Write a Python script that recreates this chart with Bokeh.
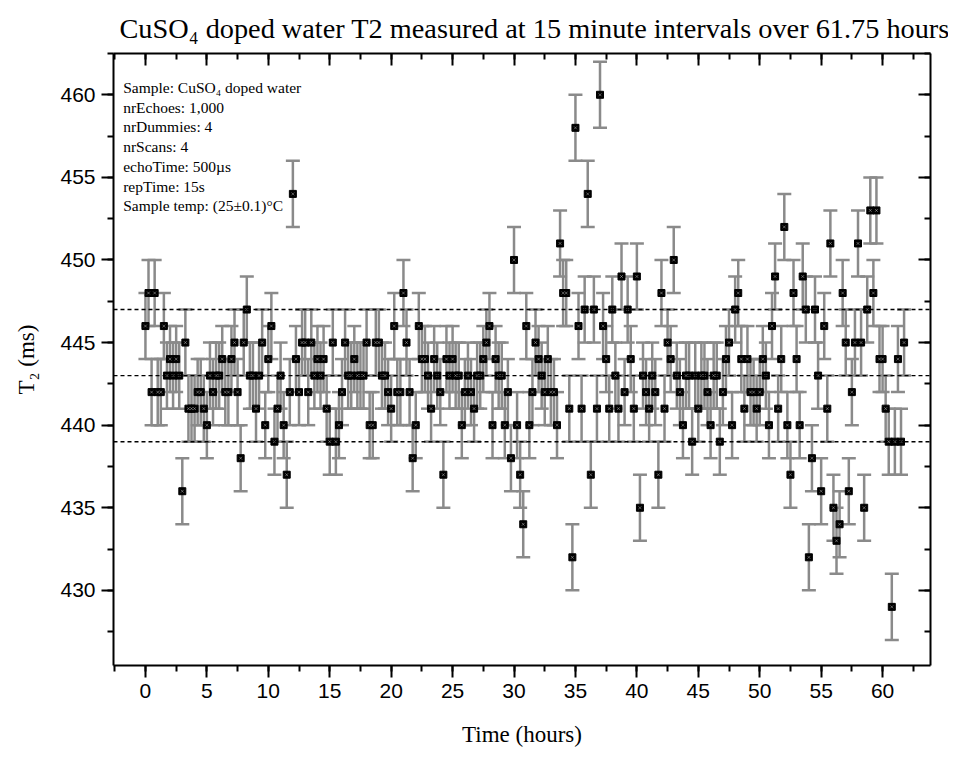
from bokeh.plotting import figure
from bokeh.models import (ColumnDataSource, Whisker, TeeHead, Span, Label,
                          LinearAxis, SingleIntervalTicker, Range1d)
from bokeh.embed import file_html
from bokeh.resources import INLINE

# ---------------- data ----------------
INTERVAL_H = 0.25          # 15 minute sampling interval (hours)
T2_ERR = 2                 # error bar half-length (ms)

T2_MS = [
    446, 448, 442, 448, 442, 442, 446, 443, 444, 443,
    444, 443, 436, 445, 441, 441, 441, 442, 442, 441,
    440, 443, 442, 443, 443, 444, 442, 442, 444, 445,
    442, 438, 445, 447, 443, 443, 441, 443, 445, 440,
    444, 446, 439, 441, 443, 440, 437, 442, 454, 444,
    442, 445, 445, 442, 445, 443, 444, 443, 444, 441,
    439, 445, 439, 440, 442, 445, 443, 443, 444, 443,
    443, 443, 445, 440, 440, 445, 445, 443, 443, 442,
    441, 446, 442, 442, 448, 445, 442, 438, 440, 446,
    444, 444, 443, 441, 444, 443, 442, 437, 444, 443,
    444, 443, 443, 440, 442, 443, 442, 441, 443, 443,
    444, 445, 446, 440, 444, 443, 443, 440, 442, 438,
    450, 440, 437, 434, 446, 440, 442, 445, 444, 443,
    442, 444, 442, 442, 440, 451, 448, 448, 441, 432,
    458, 446, 441, 447, 454, 437, 447, 441, 460, 446,
    444, 441, 447, 443, 441, 449, 442, 447, 444, 441,
    449, 435, 443, 442, 441, 443, 442, 437, 448, 441,
    445, 444, 450, 443, 442, 440, 443, 443, 439, 443,
    441, 443, 443, 442, 440, 443, 443, 439, 442, 444,
    445, 440, 447, 448, 444, 441, 444, 442, 442, 441,
    442, 444, 443, 440, 446, 449, 441, 444, 452, 440,
    437, 448, 444, 440, 449, 447, 432, 438, 447, 443,
    436, 446, 441, 451, 435, 433, 434, 448, 445, 436,
    442, 445, 451, 445, 435, 447, 453, 448, 453, 444,
    444, 441, 439, 429, 439, 444, 439, 445,
]
TIME_H = [i * INTERVAL_H for i in range(len(T2_MS))]

REF_LINES = [447, 443, 439]   # dashed reference levels (ms)

TITLE = "CuSO\u2084 doped water T2 measured at 15 minute intervals over 61.75 hours"
INFO_LINES = [
    "Sample: CuSO\u2084 doped water",
    "nrEchoes: 1,000",
    "nrDummies: 4",
    "nrScans: 4",
    "echoTime: 500\u00b5s",
    "repTime: 15s",
    "Sample temp: (25\u00b10.1)\u00b0C",
]
X_LABEL = "Time (hours)"
Y_LABEL = "T\u2082 (ms)"

# ---------------- figure ----------------
SERIF = "Liberation Serif"
SANS = "Liberation Sans"
FRAME_W, FRAME_H = 817, 612

src = ColumnDataSource(dict(
    t=TIME_H, v=T2_MS,
    lo=[v - T2_ERR for v in T2_MS], hi=[v + T2_ERR for v in T2_MS],
))

p = figure(output_backend="svg", toolbar_location=None,
           frame_width=FRAME_W, frame_height=FRAME_H,
           min_border_left=113, min_border_right=18,
           min_border_top=53, min_border_bottom=85,
           x_range=Range1d(-2.6, 63.9), y_range=Range1d(425.45, 462.5),
           x_axis_location=None, y_axis_location=None)
p.grid.visible = False
p.outline_line_color = None
p.background_fill_color = "white"

def style_axis(ax, labels=True):
    ax.ticker = SingleIntervalTicker(interval=5, num_minor_ticks=2)
    ax.axis_line_width = 2
    ax.axis_line_color = "black"
    ax.major_tick_line_width = 2
    ax.minor_tick_line_width = 2
    ax.major_tick_line_color = "black"
    ax.minor_tick_line_color = "black"
    if labels:
        ax.major_tick_out = 12
        ax.major_tick_in = 0
        ax.minor_tick_out = 6
        ax.minor_tick_in = 0
        ax.major_label_text_font = SANS
        ax.major_label_text_font_size = "21px"
        ax.major_label_text_color = "black"
        ax.axis_label_text_font = SERIF
        ax.axis_label_text_font_size = "23px"
        ax.axis_label_text_font_style = "normal"
        ax.axis_label_text_color = "black"
    else:
        ax.major_tick_out = 0
        ax.major_tick_in = 12
        ax.minor_tick_out = 0
        ax.minor_tick_in = 6
        ax.major_label_text_font_size = "1px"
        ax.major_label_text_color = None
        ax.major_label_standoff = 0

xb = LinearAxis(axis_label=X_LABEL)
style_axis(xb)
xb.major_label_standoff = 6
xb.axis_label_standoff = 21
p.add_layout(xb, "below")

yl = LinearAxis(axis_label=Y_LABEL)
style_axis(yl)
yl.major_label_standoff = 6
yl.axis_label_standoff = 18
p.add_layout(yl, "left")

xt = LinearAxis()
style_axis(xt, labels=False)
p.add_layout(xt, "above")

yr = LinearAxis()
style_axis(yr, labels=False)
p.add_layout(yr, "right")

p.title.text = TITLE
p.title.text_font = SERIF
p.title.text_font_size = "28.3px"
p.title.text_font_style = "normal"
p.title.text_color = "black"
p.title.align = "left"
p.title.offset = 6
p.title.standoff = 19

for lvl in REF_LINES:
    p.add_layout(Span(location=lvl, dimension="width", line_color="black",
                      line_width=1.4, line_dash="4 3"))

err_col = "#8a8a8a"
p.add_layout(Whisker(source=src, base="t", lower="lo", upper="hi",
                     line_color=err_col, line_width=2.5,
                     upper_head=TeeHead(size=14, line_color=err_col, line_width=2.5),
                     lower_head=TeeHead(size=14, line_color=err_col, line_width=2.5)))

p.scatter("t", "v", source=src, marker="square", size=7,
          fill_color="black", line_color="black")
p.scatter("t", "v", source=src, marker="x", size=4,
          line_color="white", line_width=0.7, line_alpha=0.5)

for k, line in enumerate(INFO_LINES):
    p.add_layout(Label(x=9.7, y=578 - 19.7 * k, x_units="screen", y_units="screen",
                       text=line, text_font=SERIF, text_font_size="15.5px",
                       text_color="black", text_baseline="alphabetic"))

open("out.html", "w").write(file_html(p, INLINE))
